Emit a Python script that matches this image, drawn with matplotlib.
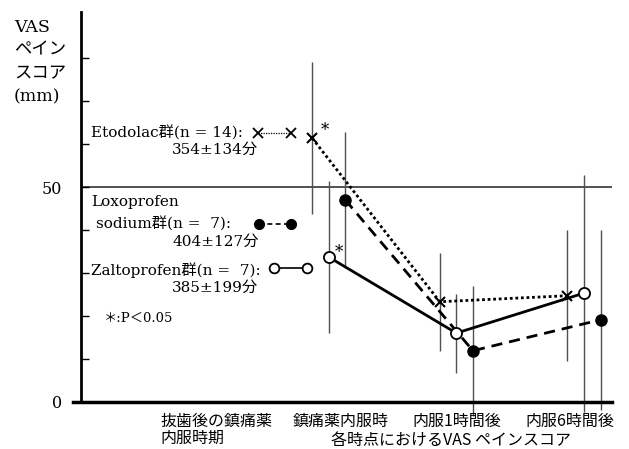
import numpy as np
import matplotlib
matplotlib.use("Agg")
import matplotlib.pyplot as plt

plt.rcParams['font.family'] = ['DejaVu Serif', 'Noto Sans CJK JP']
JP = ['Noto Sans CJK JP', 'DejaVu Sans']
SERIF = ['DejaVu Serif', 'Noto Sans CJK JP']

# time points (x categories)
time_labels = ['抜歯後の鎮痛薬\n内服時期', '鎮痛薬内服時', '内服1時間後', '内服6時間後']
label_shift = [0.12, 0.09, 0.0, -0.11]

# VAS values (mm) at 鎮痛薬内服時, 内服1時間後, 内服6時間後
etodolac_mean = [61.4, 23.3, 24.7]
etodolac_sd = [17.7, 11.4, 15.2]
loxo_mean = [47.0, 11.9, 19.1]
loxo_sd = [15.8, 15.1, 20.9]
zalto_mean = [33.7, 16.0, 25.3]
zalto_sd = [17.6, 9.2, 27.6]

x_pts = np.arange(1, 4)
off = 0.13

fig = plt.figure(figsize=(6.29, 4.49), dpi=100)
ax = fig.add_axes([0.129, 0.105, 0.844, 0.868])
ax.set_xlim(-0.94, 3.22)
ax.set_ylim(0, 90.7)

# error bars first (thin grey lines, no caps)
ebc = '#505050'
ax.errorbar(x_pts - off, etodolac_mean, yerr=etodolac_sd, fmt='none', ecolor=ebc, elinewidth=1.0, capsize=0, clip_on=False)
ax.errorbar(x_pts + off, loxo_mean, yerr=loxo_sd, fmt='none', ecolor=ebc, elinewidth=1.0, capsize=0, clip_on=False)
ax.errorbar(x_pts, zalto_mean, yerr=zalto_sd, fmt='none', ecolor=ebc, elinewidth=1.0, capsize=0, clip_on=False)

# reference line at 50
ax.axhline(50, color='#333333', lw=1.2, zorder=1)

ax.plot(x_pts - off, etodolac_mean, color='black', ls=(0, (1, 1)), lw=2, marker='x', ms=7, mew=1.5, zorder=3)
ax.plot(x_pts + off, loxo_mean, color='black', ls=(0, (4, 2.5)), lw=2, marker='o', ms=8, mfc='black', zorder=3)
ax.plot(x_pts, zalto_mean, color='black', ls='-', lw=2, marker='o', ms=8, mfc='white', mew=1.3, zorder=4)

# significance marks
ax.annotate('*', (x_pts[0] - off, etodolac_mean[0]), xytext=(6, 2), textcoords='offset points', fontsize=12, family=SERIF)
ax.annotate('*', (x_pts[0], zalto_mean[0]), xytext=(4, 0), textcoords='offset points', fontsize=12, family=SERIF)

# legend keys
ax.plot([0.446, 0.705], [62.6, 62.6], color='black', ls=(0, (1, 1)), lw=0.9, marker='x', ms=7, mew=1.3)
ax.plot([0.454, 0.705], [41.4, 41.4], color='black', ls=(0, (3, 2)), lw=1.2, marker='o', ms=7, mfc='black')
ax.plot([0.572, 0.830], [31.2, 31.2], color='black', ls='-', lw=1.2, marker='o', ms=7, mfc='white', mew=1.3)

fs = 11
ax.text(-0.861, 62.6, 'Etodolac群(n = 14):', fontsize=fs, va='center', family=SERIF)
ax.text(-0.227, 58.6, '354±134分', fontsize=fs, va='center', family=SERIF)
ax.text(-0.861, 46.5, 'Loxoprofen', fontsize=fs, va='center', family=SERIF)
ax.text(-0.822, 41.4, 'sodium群(n =  7):', fontsize=fs, va='center', family=SERIF)
ax.text(-0.227, 37.2, '404±127分', fontsize=fs, va='center', family=SERIF)
ax.text(-0.861, 30.7, 'Zaltoprofen群(n =  7):', fontsize=fs, va='center', family=SERIF)
ax.text(-0.227, 26.5, '385±199分', fontsize=fs, va='center', family=SERIF)
ax.text(-0.76, 19.5, '＊:P＜0.05', fontsize=9.5, va='center', family=SERIF)

# axes styling
for s in ['top', 'right']:
    ax.spines[s].set_visible(False)
ax.spines['left'].set_linewidth(2)
ax.spines['bottom'].set_visible(False)
ax.axhline(0, xmin=-0.016, xmax=1, color='black', lw=2.5, clip_on=False, zorder=5)
ax.set_yticks(np.arange(0, 90, 10))
ax.set_yticklabels(['0', '', '', '', '', '50', '', '', ''], family=SERIF, fontsize=11.5)
ax.tick_params(axis='y', direction='in', length=6, width=1, pad=14)
ax.set_xticks([])

for i, lab in enumerate(time_labels):
    ax.text(i + label_shift[i], -2.6, lab, ha='center', va='top', fontsize=11.5, family=JP,
            multialignment='left', linespacing=1.0)
fig.text(0.717, 0.02, '各時点におけるVAS ペインスコア', ha='center', va='center', fontsize=11.5, family=JP)

# y axis title
for j, t in enumerate(['VAS', 'ペイン', 'スコア', '(mm)']):
    fig.text(14 / 629, 1 - (27 + 23.3 * j) / 449, t, ha='left', va='center', fontsize=12.5, family=SERIF)

fig.savefig('out.png', dpi=100)
